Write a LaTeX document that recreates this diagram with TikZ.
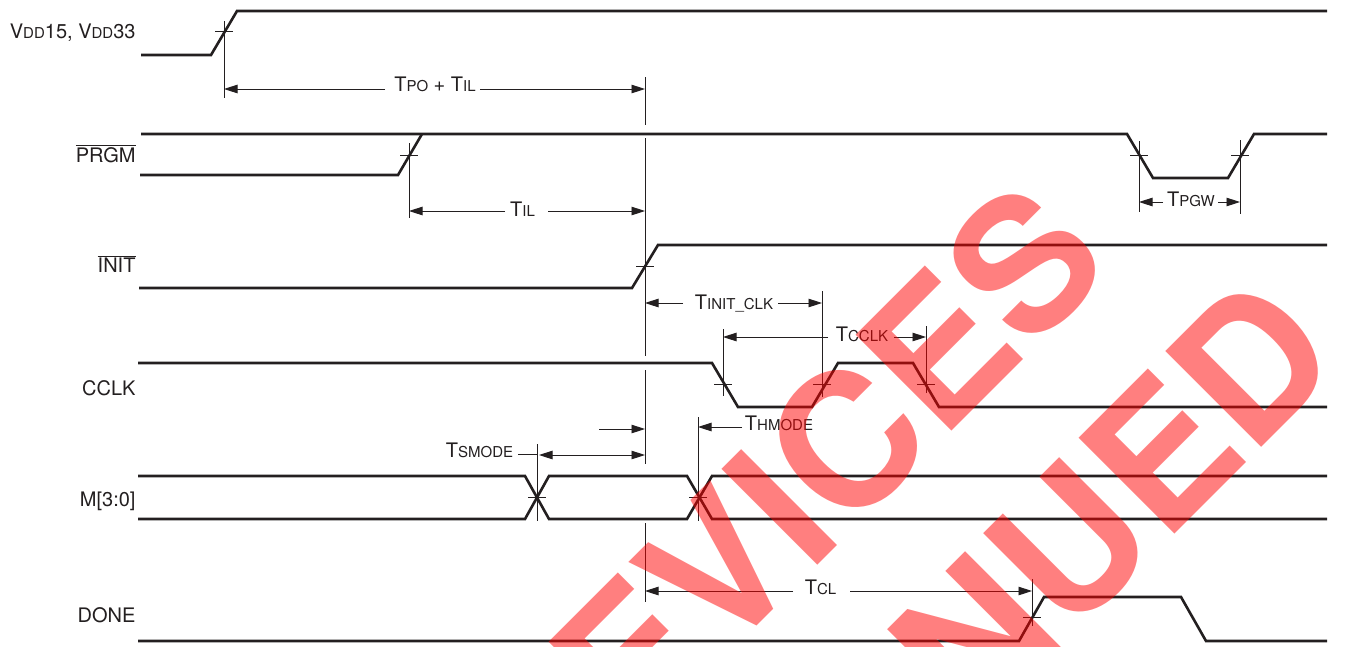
\documentclass[tikz,border=0pt]{standalone}
\usepackage{fontspec}
\usepackage{tikz}
\usepackage{xcolor}
\setmainfont{TeX Gyre Heros}
\usetikzlibrary{
  positioning, arrows.meta, calc,
}
\definecolor{cInk}{HTML}{231F20}
\newcommand{\smcp}[1]{{\fontsize{15}{15}\selectfont #1}}
\newcommand{\ovl}[1]{$\overline{\mbox{#1}}$}
\tikzset{
  wave/.style={draw=cInk, line width=2.6pt, line join=miter},
  guide/.style={draw=cInk, line width=0.9pt},
  dimarrow/.style={draw=cInk, line width=0.9pt, -{Triangle[length=13.5pt,width=8.5pt]}},
  siglabel/.style={text=cInk, font=\fontsize{20}{20}\selectfont, anchor=east, inner sep=0pt, text height=14pt, text depth=0pt},
  dimlabel/.style={text=cInk, font=\fontsize{20}{20}\selectfont, inner sep=0pt, text height=14pt, text depth=0pt},
  stamp/.style={text=red, text opacity=0.5, font=\bfseries\fontsize{186}{186}\selectfont, anchor=base west, rotate=45, inner sep=0pt},
}

\begin{document}
\begin{tikzpicture}[x=1pt, y=-1pt]
  \useasboundingbox (0,0) rectangle (1346,646);
  \clip (0,0) rectangle (1346,646);

  % signal names
  \foreach \nm/\y/\txt in {vdd/31/{V\smcp{DD}15, V\smcp{DD}33}, prgm/155/{\ovl{PRGM}}, init/265/{\ovl{INIT}},
      cclk/388/{CCLK}, mode/499/{M[3:0]}, done/615/{DONE}}{
    \node[siglabel] (lab\nm) at (135.7, \y) {\txt};
  }

  % waveforms
  \draw[wave] (141,55) -- (211,55) -- (237,11) -- (1327,11);
  \draw[wave] (141,134) -- (1127,134) -- (1153,178) -- (1228,178) -- (1254,134) -- (1327,134);
  \draw[wave] (140,175) -- (398,175) -- (422,134);
  \draw[wave] (139,288) -- (632,288) -- (658,245) -- (1327,245);
  \draw[wave] (138,363) -- (712,363) -- (738,407) -- (812,407) -- (838,363) -- (913,363) -- (939,407) -- (1327,407);
  \draw[wave] (138,476) -- (525,476) -- (549,519) -- (687,519) -- (712,476) -- (1327,476);
  \draw[wave] (138,519) -- (525,519) -- (549,476) -- (687,476) -- (712,519) -- (1327,519);
  \draw[wave] (138,641) -- (1019,641) -- (1044,597) -- (1181,597) -- (1206,641) -- (1327,641);

  % crossing marks with their guides
  \foreach \nm/\x/\y/\top/\bot in {vdd/224/31/21/98, prgm/409/155/143/218, pgwL/1139/155/141/212, pgwR/1240/155/140/214,
      init/645/266/138/356, clkA/723/384/329/396, clkB/822/384/291/397, clkC/926/384/326/393,
      smode/537/497/444/521, hmode/698/497/417/521, done/1032/617/579/626}{
    \coordinate (mark\nm) at (\x, \y);
    \draw[guide] ($(mark\nm)+(-9,0)$) -- ($(mark\nm)+(9,0)$);
    \draw[guide] (\x, \top) -- (\x, \bot);
  }
  \draw[guide] (markinit |- 0,77) -- (markinit |- 0,125);
  \draw[guide] (markinit |- 0,370) -- (markinit |- 0,464);
  \draw[guide] (markinit |- 0,523) -- (markinit |- 0,602);

  % timing labels
  \node[dimlabel] (lblPoIl) at (435,84.5) {T\smcp{PO} + T\smcp{IL}};
  \node[dimlabel] (lblIl) at (522.5,209) {T\smcp{IL}};
  \node[dimlabel] (lblPgw) at (1191,199.5) {T\smcp{PGW}};
  \node[dimlabel] (lblInit) at (734,302) {T\smcp{INIT\_CLK}};
  \node[dimlabel] (lblClk) at (862,334.5) {T\smcp{CCLK}};
  \node[dimlabel] (lblHmode) at (779,423.5) {T\smcp{HMODE}};
  \node[dimlabel] (lblSmode) at (479.5,450) {T\smcp{SMODE}};
  \node[dimlabel] (lblCl) at (820.5,587) {T\smcp{CL}};

  % free ends of the timing arrows
  \coordinate (aPoL) at (385,89);    \coordinate (aPoR) at (480,89);
  \coordinate (aIlL) at (505,211);   \coordinate (aIlR) at (548,211);
  \coordinate (aPgwL) at (1163,202); \coordinate (aPgwR) at (1218,202);
  \coordinate (aInitL) at (683,303); \coordinate (aInitR) at (778,303);
  \coordinate (aClkL) at (828,337);  \coordinate (aClkR) at (894,337);
  \coordinate (aHmode) at (742,427);
  \coordinate (aSetup) at (599,429);
  \coordinate (aClL) at (793,591);   \coordinate (aClR) at (850,591);

  \draw[dimarrow] (aPoL) -- (aPoL -| markvdd);
  \draw[dimarrow] (aPoR) -- (aPoR -| markinit);
  \draw[dimarrow] (aIlL) -- (aIlL -| markprgm);
  \draw[dimarrow] (aIlR) -- (aIlR -| markinit);
  \draw[dimarrow] (aPgwL) -- (aPgwL -| markpgwL);
  \draw[dimarrow] (aPgwR) -- (aPgwR -| markpgwR);
  \draw[dimarrow] (aInitL) -- (aInitL -| markinit);
  \draw[dimarrow] (aInitR) -- (aInitR -| markclkB);
  \draw[dimarrow] (aClkL) -- (aClkL -| markclkA);
  \draw[dimarrow] (aClkR) -- (aClkR -| markclkC);
  \draw[dimarrow] (aHmode) -- (aHmode -| markhmode);
  \draw[dimarrow] (aSetup) -- (aSetup -| markinit);
  \draw[dimarrow] (aClL) -- (aClL -| markinit);
  \draw[dimarrow] (aClR) -- (aClR -| markdone);
  \draw[dimarrow, {Triangle[length=13.5pt,width=8.5pt]}-{Triangle[length=13.5pt,width=8.5pt]}] (539,455) coordinate (aSet) -- (aSet -| markinit);
  \draw[guide] (518,454) coordinate (aSmode) -- (aSmode -| marksmode);

  % stamp across the sheet
  \node[stamp] (stampA) at (634,749) {EVICES};
  \node[stamp] (stampB) at (974,735) {NUED};
\end{tikzpicture}
\end{document}
